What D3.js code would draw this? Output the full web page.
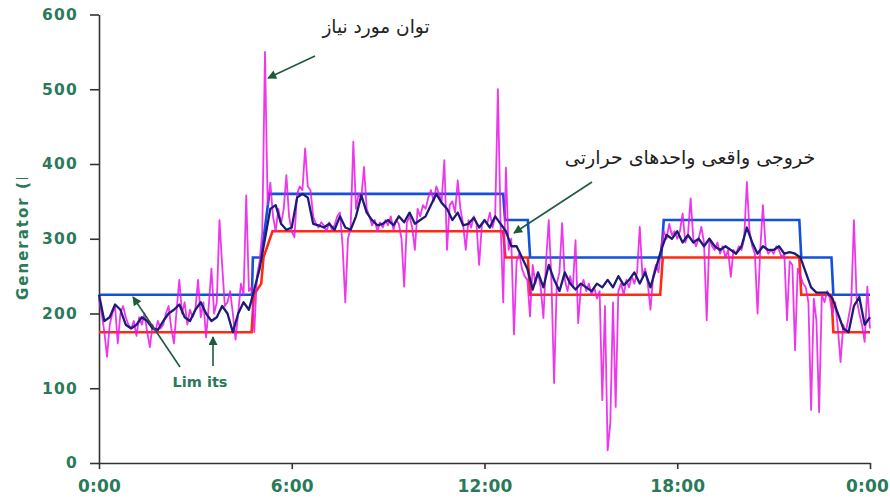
<!DOCTYPE html>
<html>
<head>
<meta charset="utf-8">
<script src="https://cdn.jsdelivr.net/npm/d3@7"></script>
<style>
  body { margin: 0; background: #fff; }
  svg { display: block; }
</style>
</head>
<body>
<svg id="chart" width="890" height="498"></svg>
<script>
// Axis ticks
const hourTicks = [0, 6, 12, 18, 24];
const hourTickLabels = ["0:00", "6:00", "12:00", "18:00", "0:00"];
const valueTicks = [0, 100, 200, 300, 400, 500, 600];

// Generation limits (step schedule): breakpoints in hours and MW
const upperLimitHours = [0, 4.76, 4.79, 5.05, 5.3, 12.58, 12.64, 13.35, 13.42, 17.5, 17.58, 21.8, 21.86, 22.8, 22.86, 24];
const upperLimitMW    = [225, 225, 275, 275, 360, 360, 325, 325, 275, 275, 325, 325, 275, 275, 225, 225];
const lowerLimitHours = [0, 4.75, 4.82, 5.05, 5.12, 5.4, 12.58, 12.65, 13.35, 13.42, 17.47, 17.55, 21.8, 21.86, 22.8, 22.86, 24];
const lowerLimitMW    = [175, 175, 225, 240, 275, 310, 310, 275, 275, 225, 225, 275, 275, 225, 225, 175, 175];

// Actual output of thermal units, every 10 minutes from 0:00 to 24:00
const actualOutputMW = [
  225, 190, 195, 212, 205, 185,
  180, 185, 195, 190, 180, 178,
  190, 200, 205, 212, 195, 190,
  205, 215, 200, 190, 195, 210,
  200, 175, 200, 215, 205, 232,
  260, 300, 340, 345, 320, 312,
  315, 355, 360, 355, 320, 318,
  315, 320, 312, 330, 315, 312,
  330, 358, 335, 325, 318, 320,
  325, 318, 330, 322, 335, 320,
  325, 330, 345, 360, 348, 340,
  325, 335, 318, 320, 328, 315,
  325, 315, 330, 320, 310, 290,
  290, 275, 260, 232, 255, 235,
  265, 245, 230, 255, 240, 232,
  240, 235, 230, 240, 235, 245,
  235, 250, 238, 245, 255, 240,
  255, 235, 260, 285, 305, 300,
  310, 295, 305, 295, 300, 290,
  300, 290, 285, 290, 285, 280,
  290, 315, 295, 280, 290, 285,
  285, 290, 280, 282, 280, 275,
  255, 235, 228, 228, 228, 220,
  200, 180, 175, 210, 222, 185,
  195
];

// Required power (demand), every 5 minutes from 0:00 to 24:00
const demandMW = [
  220, 200, 175, 142, 185, 200, 210, 160, 200, 210, 195, 185,
  180, 190, 170, 195, 185, 200, 175, 155, 185, 175, 190, 180,
  185, 200, 210, 180, 160, 205, 245, 200, 215, 185, 205, 195,
  205, 245, 195, 215, 168, 210, 260, 200, 215, 325, 265, 210,
  215, 230, 200, 165, 200, 240, 225, 358, 230, 235, 175, 250,
  270, 310, 550, 345, 375, 330, 310, 340, 320, 340, 385, 330,
  310, 302, 360, 370, 365, 421, 370, 365, 330, 320, 315, 322,
  318, 310, 322, 312, 318, 330, 335, 290, 215, 300, 315, 430,
  340, 360, 355, 396, 340, 330, 318, 325, 310, 322, 315, 325,
  318, 330, 312, 325, 320, 300, 236, 322, 330, 315, 285, 340,
  330, 345, 340, 355, 365, 350, 370, 360, 350, 405, 285, 345,
  350, 335, 378, 340, 320, 285, 325, 315, 330, 320, 265, 318,
  325, 320, 335, 315, 330, 500, 320, 215, 395, 285, 300, 172,
  270, 280, 260, 250, 245, 196, 265, 240, 255, 235, 194, 270,
  325, 245, 107, 240, 255, 321, 245, 230, 250, 235, 298, 187,
  235, 245, 230, 240, 225, 235, 220, 230, 84, 210, 17, 54,
  215, 75, 230, 240, 225, 245, 235, 250, 240, 255, 316, 250,
  260, 240, 205, 250, 265, 255, 290, 310, 300, 320, 305, 310,
  300, 310, 334, 295, 305, 354, 300, 290, 300, 316, 295, 191,
  300, 290, 285, 295, 280, 290, 275, 285, 249, 285, 280, 290,
  285, 300, 376, 310, 290, 280, 200, 285, 345, 290, 280, 285,
  280, 290, 285, 275, 280, 191, 270, 265, 151, 260, 250, 240,
  235, 215, 71, 220, 190, 68, 225, 215, 230, 220, 200, 215,
  180, 135, 185, 175, 195, 215, 325, 220, 200, 185, 162, 236,
  180
];

const svg = d3.select("#chart");
const green = "#2a7a5a";
const arrowGreen = "#1d5c3a";

const x = d3.scaleLinear().domain([0, 24]).range([99, 870]);
const y = d3.scaleLinear().domain([0, 600]).range([463, 14.5]);

// Arrow head marker
const defs = svg.append("defs");
defs.append("marker")
  .attr("id", "arrowHead")
  .attr("viewBox", "0 0 10 10")
  .attr("refX", 9).attr("refY", 5)
  .attr("markerUnits", "userSpaceOnUse")
  .attr("markerWidth", 10).attr("markerHeight", 9)
  .attr("orient", "auto")
  .append("path")
  .attr("d", "M0,0 L10,5 L0,10 Z")
  .attr("fill", arrowGreen);

defs.append("clipPath").attr("id", "labelClip")
  .append("rect").attr("x", 0).attr("y", 178).attr("width", 60).attr("height", 200);

// Axes
const yAxis = d3.axisLeft(y).tickValues(valueTicks).tickSize(9).tickSizeOuter(0).tickPadding(12);
const xAxis = d3.axisBottom(x).tickValues(hourTicks).tickSize(6).tickSizeOuter(0).tickPadding(11)
  .tickFormat((d, i) => hourTickLabels[i]);

const gy = svg.append("g").attr("transform", "translate(99,0)").call(yAxis);
const gx = svg.append("g").attr("transform", "translate(0,463)").call(xAxis);

[gx, gy].forEach(g => {
  g.select(".domain").attr("stroke", "#333").attr("stroke-width", 1.6);
  g.selectAll(".tick line").attr("stroke", "#333").attr("stroke-width", 1.6);
  g.selectAll(".tick text")
    .attr("fill", green)
    .attr("font-family", "'DejaVu Sans', Verdana, sans-serif")
    .attr("font-weight", "bold");
});
gy.selectAll(".tick text").attr("font-size", 15.5).attr("letter-spacing", 1.2);
gx.selectAll(".tick text").attr("font-size", 17).attr("letter-spacing", 0.2);
// keep the final midnight label inside the frame
gx.selectAll(".tick text").filter((d, i) => i === hourTicks.length - 1).attr("dx", -3);

// Y axis title
svg.append("g").attr("clip-path", "url(#labelClip)")
  .append("text")
  .attr("transform", "translate(28,300) rotate(-90)")
  .attr("font-family", "'DejaVu Sans', Verdana, sans-serif")
  .attr("font-weight", "bold")
  .attr("font-size", 15)
  .attr("letter-spacing", 2)
  .attr("fill", green)
  .text("Generator (MW)");

// Series lines
const limitLine = d3.line().x(d => x(d[0])).y(d => y(d[1]));
const upperPts = upperLimitHours.map((h, i) => [h, upperLimitMW[i]]);
const lowerPts = lowerLimitHours.map((h, i) => [h, lowerLimitMW[i]]);

svg.append("path").datum(lowerPts)
  .attr("d", limitLine).attr("fill", "none")
  .attr("stroke", "#ff2a14").attr("stroke-width", 2.6);
svg.append("path").datum(upperPts)
  .attr("d", limitLine).attr("fill", "none")
  .attr("stroke", "#1350dc").attr("stroke-width", 2.6);

const demandLine = d3.line().x((d, i) => x(i / 12)).y(d => y(d));
svg.append("path").datum(demandMW)
  .attr("d", demandLine).attr("fill", "none")
  .attr("stroke", "#ea14ea").attr("stroke-width", 1.8).attr("stroke-opacity", 0.85)
  .attr("stroke-linejoin", "round");

const outputLine = d3.line().x((d, i) => x(i / 6)).y(d => y(d));
svg.append("path").datum(actualOutputMW)
  .attr("d", outputLine).attr("fill", "none")
  .attr("stroke", "#1c1c78").attr("stroke-width", 2.3).attr("stroke-linejoin", "round");

// Annotations
const arrows = [
  [315, 56, 268, 78],
  [592, 182, 514, 233],
  [180, 367, 133, 297],
  [213, 366, 213, 337]
];
svg.selectAll("line.arrow").data(arrows).enter().append("line")
  .attr("class", "arrow")
  .attr("x1", d => d[0]).attr("y1", d => d[1])
  .attr("x2", d => d[2]).attr("y2", d => d[3])
  .attr("stroke", arrowGreen).attr("stroke-width", 1.6)
  .attr("marker-end", "url(#arrowHead)");

svg.append("text")
  .attr("x", 376).attr("y", 33)
  .attr("text-anchor", "middle")
  .attr("direction", "rtl")
  .attr("font-family", "'DejaVu Sans', sans-serif")
  .attr("font-size", 18.5).attr("fill", "#222")
  .text("توان مورد نیاز");

svg.append("text")
  .attr("x", 690).attr("y", 164)
  .attr("text-anchor", "middle")
  .attr("direction", "rtl")
  .attr("font-family", "'DejaVu Sans', sans-serif")
  .attr("font-size", 19).attr("fill", "#222")
  .text("خروجی واقعی واحدهای حرارتی");

svg.append("text")
  .attr("x", 200).attr("y", 387)
  .attr("text-anchor", "middle")
  .attr("font-family", "'DejaVu Sans', Verdana, sans-serif")
  .attr("font-weight", "bold")
  .attr("font-size", 14.5).attr("fill", green)
  .text("Lim its");
</script>
</body>
</html>
